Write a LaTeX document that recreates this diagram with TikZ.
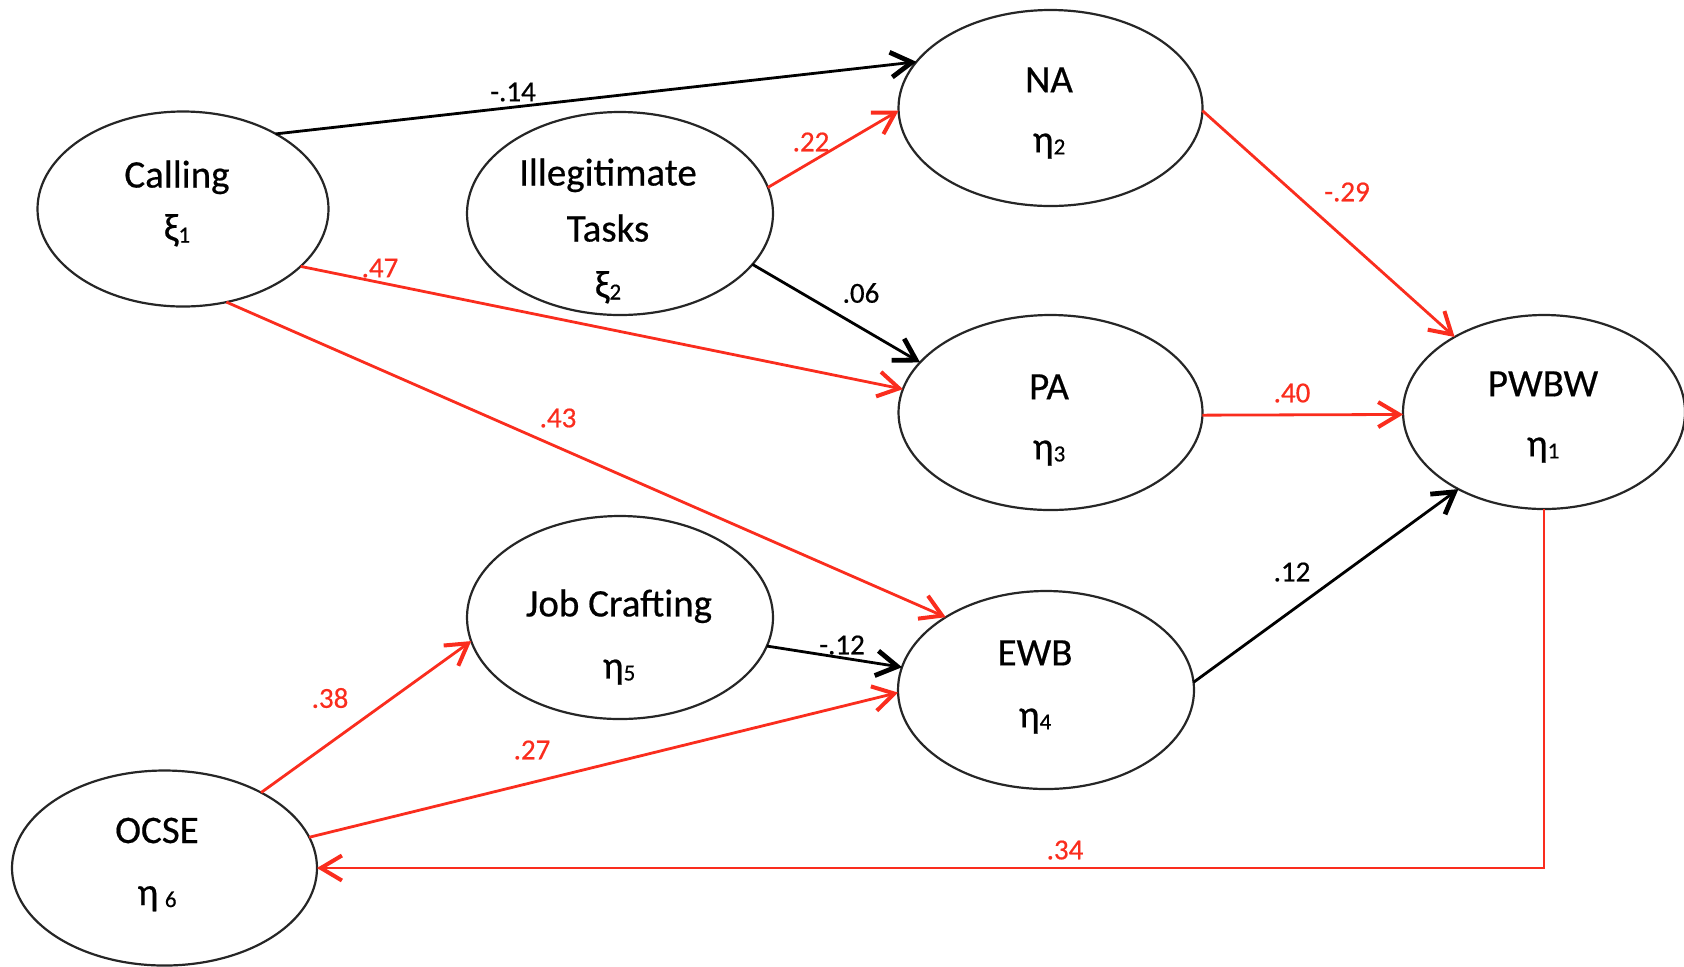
\documentclass[tikz,border=0pt]{standalone}
\usepackage{fontspec}
\setmainfont{Carlito}
\newfontfamily\diagfont{Carlito}[FakeBold=0.5]
\usetikzlibrary{arrows.meta,calc,shapes.geometric}
\definecolor{pathred}{RGB}{250,45,30}
% small index digit set on the baseline after a Greek letter
\newcommand\idx[1]{\raisebox{-1pt}{\fontsize{11.5pt}{11.5pt}\selectfont #1}}

\begin{document}
\begin{tikzpicture}[x=0.5pt,y=-0.5pt,
  latent/.style={ellipse, draw=black!85, line width=1.1pt, inner sep=0pt, outer sep=0pt},
  vartext/.style={align=center, inner sep=0pt, font=\diagfont\fontsize{19.5pt}{#1}\selectfont},
  vartext/.default=30pt,
  redarrow/.style={-{Straight Barb[length=10.5pt,width=12.5pt,line width=2pt]}, draw=pathred, line width=1.4pt},
  blackarrow/.style={-{Straight Barb[length=10.5pt,width=12.5pt,line width=2.4pt]}, draw=black, line width=1.4pt},
  coef/.style={font=\diagfont\fontsize{14.5pt}{14.5pt}\selectfont, inner sep=0pt},
  redcoef/.style={coef, text=pathred},
]
\useasboundingbox (0,0) rectangle (1684,966);

% latent variables
\node[latent, minimum width=145.5pt, minimum height=97.5pt] (calling) at (183,209) {};
\node[latent, minimum width=153pt, minimum height=101.5pt] (illeg) at (620,213.5) {};
\node[latent, minimum width=152pt, minimum height=98pt] (na) at (1050.5,108) {};
\node[latent, minimum width=152pt, minimum height=97.5pt] (pa) at (1050.5,412.5) {};
\node[latent, minimum width=141pt, minimum height=97pt] (pwbw) at (1544,412) {};
\node[latent, minimum width=153pt, minimum height=101.5pt] (jc) at (620,617.5) {};
\node[latent, minimum width=148pt, minimum height=99pt] (ewb) at (1046,690) {};
\node[latent, minimum width=152.5pt, minimum height=97.5pt] (ocse) at (164.5,868) {};

% their names
\node[vartext=26.5pt] (callingtxt) at (177,203.5) {Calling\\ξ\idx{1}};
\node[vartext=28pt] (illegtxt) at (608,231) {Illegitimate\\Tasks\\ξ\idx{2}};
\node[vartext] (natxt) at (1049,113) {NA\\η\idx{2}};
\node[vartext] (patxt) at (1049,420) {PA\\η\idx{3}};
\node[vartext] (pwbwtxt) at (1543,417) {PWBW\\η\idx{1}};
\node[vartext=31pt] (jctxt) at (619,637) {Job Crafting\\η\idx{5}};
\node[vartext=31pt] (ewbtxt) at (1035,687) {EWB\\η\idx{4}};
\node[vartext=31pt] (ocsetxt) at (157,864.5) {OCSE\\η\,\idx{6}};

% structural paths
\draw[blackarrow] (calling.39.3) -- (na.161.4);
\draw[redarrow] (illeg.10.2) -- (na.181.9);
\draw[blackarrow] (illeg.-21.8) -- (pa.159.2);
\draw[redarrow] (calling.-26) -- (pa.171.7);
\draw[redarrow] (calling.-65.1) -- (ewb.144);
\draw[redarrow] (na.-1.5) -- (pwbw.140.6);
\draw[redarrow] (pa.-1) -- (pwbw.181);
\draw[blackarrow] (ewb.3.9) -- (pwbw.222.1);
\draw[blackarrow] (jc.-11.9) -- (ewb.171.3);
\draw[redarrow] (ocse.38.9) -- (jc.189.3);
\draw[redarrow] (ocse.12.8) -- (ewb.181.1);
\draw[redarrow] (pwbw.south) |- (ocse.east);

% path coefficients
\node[coef] (c1) at (513,92) {-.14};
\node[redcoef] (c2) at (811,142) {.22};
\node[coef] (c3) at (861,293) {.06};
\node[redcoef] (c4) at (380,268) {.47};
\node[redcoef] (c5) at (558,418) {.43};
\node[redcoef] (c6) at (1347,192) {-.29};
\node[redcoef] (c7) at (1292,393) {.40};
\node[coef] (c8) at (1292,572) {.12};
\node[coef] (c9) at (842,645) {-.12};
\node[redcoef] (c10) at (330,698) {.38};
\node[redcoef] (c11) at (532,750) {.27};
\node[redcoef] (c12) at (1065,850) {.34};
\end{tikzpicture}
\end{document}
